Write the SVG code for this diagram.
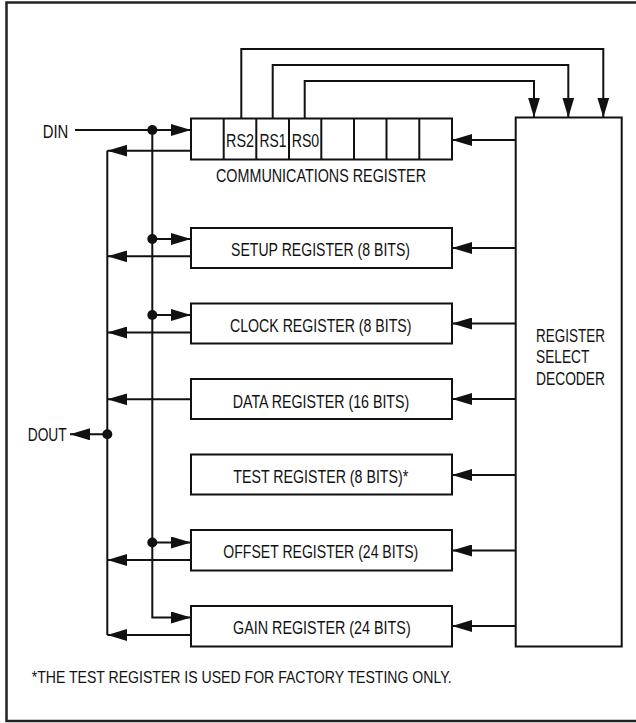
<svg xmlns="http://www.w3.org/2000/svg" width="636" height="723" viewBox="0 0 636 723">
<style>
.b{fill:#fff;stroke:#111;stroke-width:2}
.w{fill:none;stroke:#111;stroke-width:2}
.t{font-family:"Liberation Sans","Arial",sans-serif;font-size:18px;fill:#111}
.f{font-family:"Liberation Sans","Arial",sans-serif;font-size:17px;fill:#111}
.a{marker-end:url(#ah)}
</style>
<defs>
<marker id="ah" markerUnits="userSpaceOnUse" markerWidth="20" markerHeight="12" refX="20" refY="6" orient="auto" viewBox="0 0 20 12">
<path d="M0,0 L20,6 L0,12 Z" fill="#111"/>
</marker>
</defs>
<rect x="0" y="0" width="636" height="723" fill="#fff"/>
<rect x="6.5" y="2.5" width="640" height="718.5" fill="none" stroke="#222" stroke-width="2.5"/>

<g id="connectors">
<!-- RS bit lines to decoder -->
<polyline class="w a" points="241.3,119 241.3,49 603.3,49 603.3,117.5"/>
<polyline class="w a" points="272.7,119 272.7,65 568.3,65 568.3,117.5"/>
<polyline class="w a" points="304.7,119 304.7,81 534,81 534,117.5"/>
<!-- DIN -->
<line class="w a" x1="75" y1="130" x2="191" y2="130"/>
<!-- input bus -->
<polyline class="w a" points="152.3,130 152.3,617.5 191,617.5"/>
<line class="w a" x1="152.3" y1="239" x2="191" y2="239"/>
<line class="w a" x1="152.3" y1="315" x2="191" y2="315"/>
<line class="w a" x1="152.3" y1="542.5" x2="191" y2="542.5"/>
<circle cx="152.3" cy="130" r="5" fill="#111"/>
<circle cx="152.3" cy="239" r="5" fill="#111"/>
<circle cx="152.3" cy="315" r="5" fill="#111"/>
<circle cx="152.3" cy="542.5" r="5" fill="#111"/>
<!-- output bus -->
<line class="w" x1="107.3" y1="150.7" x2="107.3" y2="635"/>
<line class="w a" x1="191" y1="150.7" x2="107.3" y2="150.7"/>
<line class="w a" x1="191" y1="256.3" x2="107.3" y2="256.3"/>
<line class="w a" x1="191" y1="332.5" x2="107.3" y2="332.5"/>
<line class="w a" x1="191" y1="399.3" x2="107.3" y2="399.3"/>
<line class="w a" x1="191" y1="560" x2="107.3" y2="560"/>
<line class="w a" x1="191" y1="635" x2="107.3" y2="635"/>
<line class="w a" x1="107.3" y1="434.3" x2="70" y2="434.3"/>
<circle cx="107.3" cy="434.3" r="5" fill="#111"/>
<!-- decoder to registers -->
<line class="w a" x1="515.7" y1="140" x2="452" y2="140"/>
<line class="w a" x1="515.7" y1="248" x2="452" y2="248"/>
<line class="w a" x1="515.7" y1="323.5" x2="452" y2="323.5"/>
<line class="w a" x1="515.7" y1="399" x2="452" y2="399"/>
<line class="w a" x1="515.7" y1="475" x2="452" y2="475"/>
<line class="w a" x1="515.7" y1="550.5" x2="452" y2="550.5"/>
<line class="w a" x1="515.7" y1="626" x2="452" y2="626"/>
</g>

<g id="din"><text class="t" x="42.7" y="137.7" textLength="25.6" lengthAdjust="spacingAndGlyphs">DIN</text></g>
<g id="dout"><text class="t" x="27.7" y="440.7" textLength="39" lengthAdjust="spacingAndGlyphs">DOUT</text></g>

<g id="comm-register">
<rect class="b" x="191" y="118.5" width="261" height="41"/>
<path class="w" d="M223.7,118.5V159.5M256.3,118.5V159.5M289,118.5V159.5M321.3,118.5V159.5M354,118.5V159.5M386.5,118.5V159.5M419.3,118.5V159.5"/>
<text class="t" x="226" y="147" textLength="28" lengthAdjust="spacingAndGlyphs">RS2</text>
<text class="t" x="259.5" y="147" textLength="27" lengthAdjust="spacingAndGlyphs">RS1</text>
<text class="t" x="291.7" y="147" textLength="27.5" lengthAdjust="spacingAndGlyphs">RS0</text>
<text class="t" x="216" y="181.7" textLength="210" lengthAdjust="spacingAndGlyphs">COMMUNICATIONS REGISTER</text>
</g>

<g id="setup-register">
<rect class="b" x="191" y="228" width="261" height="40"/>
<text class="t" x="231" y="256.3" textLength="179" lengthAdjust="spacingAndGlyphs">SETUP REGISTER (8 BITS)</text>
</g>
<g id="clock-register">
<rect class="b" x="191" y="303.5" width="261" height="40"/>
<text class="t" x="230" y="331.8" textLength="181.5" lengthAdjust="spacingAndGlyphs">CLOCK REGISTER (8 BITS)</text>
</g>
<g id="data-register">
<rect class="b" x="191" y="379" width="261" height="40"/>
<text class="t" x="232.7" y="407.5" textLength="176.6" lengthAdjust="spacingAndGlyphs">DATA REGISTER (16 BITS)</text>
</g>
<g id="test-register">
<rect class="b" x="191" y="454.5" width="261" height="40"/>
<text class="t" x="233.3" y="483.2" textLength="175" lengthAdjust="spacingAndGlyphs">TEST REGISTER (8 BITS)*</text>
</g>
<g id="offset-register">
<rect class="b" x="191" y="530" width="261" height="40.5"/>
<text class="t" x="223.3" y="558.4" textLength="195" lengthAdjust="spacingAndGlyphs">OFFSET REGISTER (24 BITS)</text>
</g>
<g id="gain-register">
<rect class="b" x="191" y="606" width="261" height="40.5"/>
<text class="t" x="233" y="634" textLength="177.7" lengthAdjust="spacingAndGlyphs">GAIN REGISTER (24 BITS)</text>
</g>

<g id="decoder">
<rect class="b" x="515.7" y="117.5" width="106" height="529"/>
<text class="t" x="536" y="341.7" textLength="69" lengthAdjust="spacingAndGlyphs">REGISTER</text>
<text class="t" x="536" y="363.3" textLength="53.3" lengthAdjust="spacingAndGlyphs">SELECT</text>
<text class="t" x="536" y="385" textLength="69" lengthAdjust="spacingAndGlyphs">DECODER</text>
</g>

<g id="footnote">
<text class="f" x="31.7" y="683.3" textLength="420" lengthAdjust="spacingAndGlyphs">*THE TEST REGISTER IS USED FOR FACTORY TESTING ONLY.</text>
</g>
</svg>
